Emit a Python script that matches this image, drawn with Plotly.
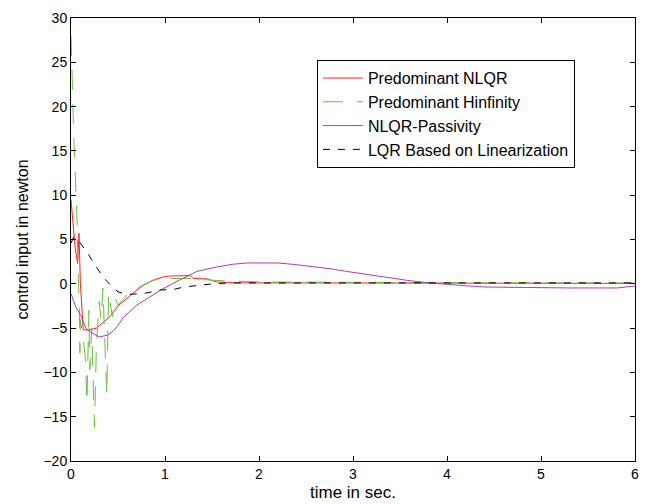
import plotly.graph_objects as go

# ---- data ----
nlqr_t = [0, 0.02, 0.045, 0.07, 0.085, 0.1, 0.13, 0.2, 0.27, 0.35, 0.415, 0.5, 0.585, 0.63, 0.7, 0.77,
          0.875, 0.98, 1.05, 1.27, 1.3, 1.45, 1.5, 1.55, 1.69, 1.75, 2.5, 3.5, 4.0, 5.0, 6.0]
nlqr_v = [9.5, 7.0, 4.0, 2.3, 5.7, 0.0, -5.2, -5.2, -5.0, -4.3, -3.7, -2.5, -1.7, -1.3, -0.7, -0.17,
          0.4, 0.77, 0.88, 0.92, 0.6, 0.55, 0.4, 0.2, 0.15, 0.1, 0.1, 0.1, 0.05, 0.05, 0.05]

hinf_t = [0, 0.005, 0.015, 0.02, 0.025, 0.03, 0.04, 0.045, 0.05, 0.06, 0.065, 0.07, 0.075, 0.08,
          0.09, 0.095, 0.1, 0.13, 0.15, 0.17, 0.19, 0.2, 0.22, 0.25, 0.27, 0.3, 0.32, 0.34, 0.38,
          0.40, 0.44, 0.47, 0.5, 0.56, 0.6, 0.7, 0.87, 1.02, 1.09, 1.3, 1.5, 1.7, 2.08, 2.5, 3.5, 4.5, 6.0]
hinf_v = [28.0, 25.2, 23.0, 20.9, 18.4, 16.5, 14.0, 11.3, 11.7, 9.0, 7.0, 4.0, 2.3, 0.0,
          -3.5, -7.8, -4.0, -6.4, -8.0, -13.4, -3.0, -9.7, -5.0, -16.2, -7.0, -2.0, -4.0, -0.5, -12.6,
          -1.0, -3.7, -1.6, -2.4, -1.7, -1.2, -0.5, 0.4, 0.6, 0.6, 0.6, 0.4, 0.3, 0.2, 0.2, 0.15, 0.1, 0.1]

pas_t = [0, 0.05, 0.11, 0.16, 0.2, 0.3, 0.39, 0.45, 0.5, 0.556, 0.7, 0.84, 0.98, 1.16, 1.34, 1.55,
         1.72, 1.87, 2.2, 2.36, 2.76, 2.93, 3.36, 3.57, 3.78, 3.96, 4.17, 4.4, 4.64, 4.81, 5.31, 5.81,
         5.95, 6.0]
pas_v = [-1.1, -2.6, -3.7, -5.05, -5.4, -6.0, -5.8, -5.3, -4.7, -3.8, -2.4, -1.5, -0.55, 0.45, 1.4,
         1.9, 2.2, 2.35, 2.35, 2.2, 1.7, 1.4, 0.7, 0.4, 0.13, -0.05, -0.2, -0.36, -0.4, -0.47, -0.47,
         -0.47, -0.28, -0.25]

lqr_t = [0, 0.03, 0.08, 0.18, 0.27, 0.34, 0.44, 0.5, 0.59, 0.77, 0.95, 1.1, 1.2, 1.37, 1.53, 1.7, 6.0]
lqr_v = [4.6, 5.3, 4.9, 3.4, 1.9, 0.77, -0.36, -0.9, -1.2, -1.1, -0.7, -0.62, -0.36, -0.17, 0.02,
         0.1, 0.1]

x_ticks = [0, 1, 2, 3, 4, 5, 6]
y_ticks = [-20, -15, -10, -5, 0, 5, 10, 15, 20, 25, 30]

FONT = "Liberation Sans, Arial, sans-serif"

fig = go.Figure()
fig.add_trace(go.Scatter(x=nlqr_t, y=nlqr_v, mode="lines", name="Predominant NLQR",
                         line=dict(color="#ff2020", width=1)))
fig.add_trace(go.Scatter(x=hinf_t, y=hinf_v, mode="lines", name="Predominant Hinfinity",
                         line=dict(color="#66c23a", width=1, dash="20px,14px")))
fig.add_trace(go.Scatter(x=pas_t, y=pas_v, mode="lines", name="NLQR-Passivity",
                         line=dict(color="#b03cb0", width=1)))
fig.add_trace(go.Scatter(x=lqr_t, y=lqr_v, mode="lines", name="LQR Based on Linearization",
                         line=dict(color="#000000", width=1, dash="7px,8px")))

axis_common = dict(showgrid=False, zeroline=False, showline=True, linecolor="black", linewidth=1,
                   mirror="allticks", ticks="inside", ticklen=5, tickcolor="black", automargin=False,
                   tickfont=dict(family=FONT, size=14, color="black"))

# page body has an 8px margin, so the figure is sized to fit the 651x504 window
fig.update_layout(
    width=643, height=496,
    margin=dict(l=63, r=16, t=10, b=43, autoexpand=False),
    paper_bgcolor="white", plot_bgcolor="white",
    font=dict(family=FONT, size=14, color="black"),
    xaxis=dict(range=[0, 6], tickvals=x_ticks,
               title=dict(text="time in sec.", font=dict(family=FONT, size=17), standoff=5),
               **axis_common),
    yaxis=dict(range=[-20, 30], tickvals=y_ticks,
               title=dict(text="control input in newton", font=dict(family=FONT, size=16), standoff=10),
               **axis_common),
    legend=dict(x=0.436, y=0.905, xanchor="left", yanchor="top",
                bgcolor="white", bordercolor="black", borderwidth=1,
                font=dict(family=FONT, size=16, color="black"),
                tracegroupgap=0, itemwidth=40),
    showlegend=True,
)

fig.write_html("out.html")
